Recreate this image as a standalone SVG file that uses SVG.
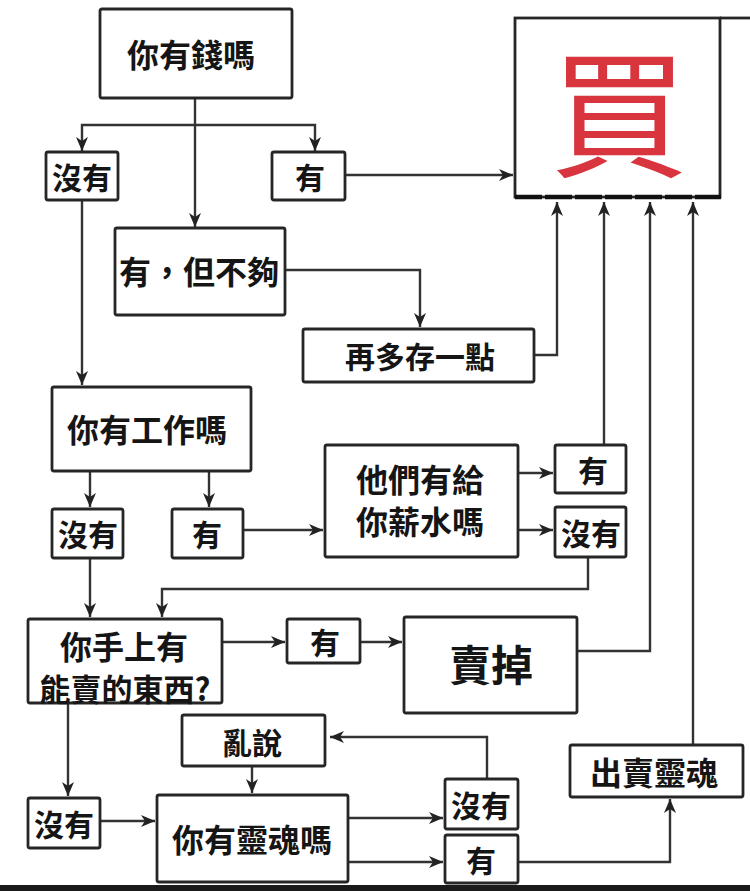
<svg xmlns="http://www.w3.org/2000/svg" width="750" height="891" viewBox="0 0 750 891">
<style>
.b{fill:#fff;stroke:#262626;stroke-width:2.8}
.t{font-family:"Noto Sans CJK TC","Noto Sans CJK SC",sans-serif;font-weight:bold;font-size:30px;fill:#151515;text-anchor:middle;dominant-baseline:central}
.L{font-size:32px}
.c{fill:none;stroke:#333;stroke-width:2.4}
</style>
<defs>
<marker id="a" markerUnits="userSpaceOnUse" markerWidth="16" markerHeight="14" refX="14" refY="7" orient="auto">
<path d="M0,1 L14,7 L0,13 L4,7 Z" fill="#222"/>
</marker>
</defs>
<rect width="750" height="891" fill="#fff"/>

<g id="connectors">
<path class="c" d="M195,98 V227" marker-end="url(#a)"/>
<path class="c" d="M195,125 H82 V151" marker-end="url(#a)"/>
<path class="c" d="M195,125 H315 V151" marker-end="url(#a)"/>
<path class="c" d="M345,175 H513" marker-end="url(#a)"/>
<path class="c" d="M285,270 H420 V327" marker-end="url(#a)"/>
<path class="c" d="M533,355 H557 V202" marker-end="url(#a)"/>
<path class="c" d="M82,200 V385" marker-end="url(#a)"/>
<path class="c" d="M90,471 V507" marker-end="url(#a)"/>
<path class="c" d="M209,471 V507" marker-end="url(#a)"/>
<path class="c" d="M243,530 H323" marker-end="url(#a)"/>
<path class="c" d="M518,473 H553" marker-end="url(#a)"/>
<path class="c" d="M518,530 H553" marker-end="url(#a)"/>
<path class="c" d="M604,445 V202" marker-end="url(#a)"/>
<path class="c" d="M588,557 V589 H162 V617" marker-end="url(#a)"/>
<path class="c" d="M90,558 V617" marker-end="url(#a)"/>
<path class="c" d="M222,642 H285" marker-end="url(#a)"/>
<path class="c" d="M360,642 H402" marker-end="url(#a)"/>
<path class="c" d="M577,651 H650 V202" marker-end="url(#a)"/>
<path class="c" d="M693,745 V202" marker-end="url(#a)"/>
<path class="c" d="M68,703 V796" marker-end="url(#a)"/>
<path class="c" d="M100,821 H155" marker-end="url(#a)"/>
<path class="c" d="M252,766 V793" marker-end="url(#a)"/>
<path class="c" d="M487,779 V737 H330" marker-end="url(#a)"/>
<path class="c" d="M348,818 H443" marker-end="url(#a)"/>
<path class="c" d="M348,862 H443" marker-end="url(#a)"/>
<path class="c" d="M518,862 H670 V799" marker-end="url(#a)"/>
</g>

<g id="n-money"><rect class="b" x="100" y="9" width="192" height="89" rx="2"/><text class="t L" x="191" y="53">你有錢嗎</text></g>
<g id="n-no1"><rect class="b" x="46" y="152" width="72" height="48" rx="2"/><text class="t" x="82" y="176">沒有</text></g>
<g id="n-yes1"><rect class="b" x="272" y="152" width="73" height="48" rx="2"/><text class="t" x="310" y="176">有</text></g>
<g id="n-notenough"><rect class="b" x="115" y="228" width="170" height="87" rx="2"/><text class="t L" x="199" y="270">有，但不夠</text></g>
<g id="n-save"><rect class="b" x="303" y="329" width="231" height="53" rx="2"/><text class="t" x="420" y="355">再多存一點</text></g>
<g id="n-buy">
<rect x="515" y="18" width="205" height="179" fill="#fff" stroke="#262626" stroke-width="2.8"/>
<line x1="515" y1="197" x2="721" y2="197" stroke="#111" stroke-width="4.5" stroke-dasharray="27 3"/>
<line x1="720" y1="18" x2="750" y2="18" stroke="#262626" stroke-width="2.8"/>
<text x="619" y="106" font-family="'Noto Sans CJK TC','Noto Sans CJK SC',sans-serif" font-size="138" fill="#d8353e" text-anchor="middle" dominant-baseline="central">買</text>
</g>
<g id="n-job"><rect class="b" x="52" y="387" width="199" height="84" rx="2"/><text class="t L" x="147" y="428">你有工作嗎</text></g>
<g id="n-no2"><rect class="b" x="52" y="509" width="71" height="49" rx="2"/><text class="t" x="88" y="533">沒有</text></g>
<g id="n-yes2"><rect class="b" x="172" y="509" width="71" height="49" rx="2"/><text class="t" x="207" y="533">有</text></g>
<g id="n-salary"><rect class="b" x="325" y="445" width="193" height="112" rx="2"/><text class="t L" x="420" y="478">他們有給</text><text class="t L" x="420" y="520">你薪水嗎</text></g>
<g id="n-yes3"><rect class="b" x="555" y="445" width="71" height="48" rx="2"/><text class="t" x="593" y="469">有</text></g>
<g id="n-no3"><rect class="b" x="555" y="507" width="71" height="50" rx="2"/><text class="t" x="591" y="532">沒有</text></g>
<g id="n-sell"><rect class="b" x="28" y="619" width="194" height="84" rx="2"/><text class="t L" x="124" y="645">你手上有</text><text class="t" x="125" y="687" style="font-size:31px">能賣的東西?</text></g>
<g id="n-yes4"><rect class="b" x="287" y="619" width="73" height="44" rx="2"/><text class="t" x="325" y="641">有</text></g>
<g id="n-sold"><rect class="b" x="404" y="617" width="173" height="96" rx="2"/><text class="t" x="491" y="662" style="font-size:42px">賣掉</text></g>
<g id="n-sellsoul"><rect class="b" x="570" y="745" width="173" height="52" rx="2"/><text class="t L" x="654" y="771">出賣靈魂</text></g>
<g id="n-nonsense"><rect class="b" x="182" y="715" width="143" height="51" rx="2"/><text class="t" x="252" y="741">亂說</text></g>
<g id="n-no5"><rect class="b" x="28" y="798" width="72" height="50" rx="2"/><text class="t" x="64" y="823">沒有</text></g>
<g id="n-soul"><rect class="b" x="157" y="795" width="191" height="87" rx="2"/><text class="t L" x="252" y="838">你有靈魂嗎</text></g>
<g id="n-no6"><rect class="b" x="445" y="779" width="73" height="50" rx="2"/><text class="t" x="481" y="804">沒有</text></g>
<g id="n-yes6"><rect class="b" x="445" y="835" width="73" height="48" rx="2"/><text class="t" x="481" y="859">有</text></g>
<rect x="0" y="885" width="750" height="6" fill="#1a1a1a"/>
</svg>
